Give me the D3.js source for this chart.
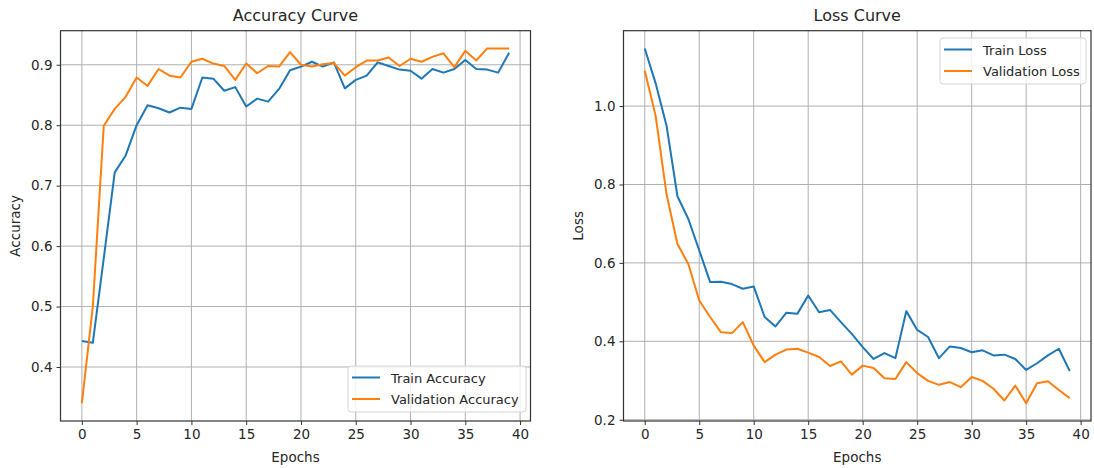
<!DOCTYPE html>
<html>
<head>
<meta charset="utf-8">
<script src="https://cdn.jsdelivr.net/npm/d3@7"></script>
<style>
  html, body { margin: 0; padding: 0; background: #fff; }
  svg { display: block; }
  text { font-family: "DejaVu Sans", sans-serif; fill: #262626; }
</style>
</head>
<body>
<svg id="chart" width="1094" height="468"></svg>
<script>
// ---- data ----
const epochs = d3.range(0, 40);
const trainAccuracy = [0.443, 0.440, 0.580, 0.722, 0.750, 0.800, 0.833, 0.828, 0.821, 0.829,
  0.827, 0.879, 0.877, 0.857, 0.863, 0.831, 0.844, 0.839, 0.860, 0.891,
  0.897, 0.905, 0.897, 0.904, 0.861, 0.875, 0.882, 0.904, 0.898, 0.892,
  0.890, 0.877, 0.893, 0.887, 0.893, 0.908, 0.893, 0.892, 0.887, 0.920];
const valAccuracy = [0.340, 0.500, 0.799, 0.827, 0.847, 0.879, 0.865, 0.893, 0.882, 0.879,
  0.905, 0.910, 0.902, 0.898, 0.875, 0.902, 0.886, 0.898, 0.897, 0.921,
  0.900, 0.897, 0.901, 0.903, 0.882, 0.896, 0.907, 0.907, 0.912, 0.898,
  0.910, 0.905, 0.913, 0.919, 0.896, 0.923, 0.907, 0.927, 0.927, 0.927];
const trainLoss = [1.147, 1.058, 0.950, 0.770, 0.712, 0.632, 0.551, 0.552, 0.546, 0.534,
  0.540, 0.462, 0.438, 0.473, 0.470, 0.517, 0.474, 0.480, 0.449, 0.419,
  0.385, 0.355, 0.370, 0.357, 0.477, 0.429, 0.411, 0.357, 0.387, 0.383,
  0.372, 0.377, 0.364, 0.366, 0.355, 0.327, 0.344, 0.364, 0.381, 0.324];
const valLoss = [1.090, 0.975, 0.775, 0.648, 0.597, 0.504, 0.462, 0.423, 0.421, 0.449,
  0.389, 0.347, 0.366, 0.379, 0.381, 0.371, 0.360, 0.337, 0.349, 0.315,
  0.338, 0.332, 0.306, 0.304, 0.347, 0.319, 0.299, 0.289, 0.296, 0.283,
  0.309, 0.299, 0.279, 0.249, 0.287, 0.242, 0.293, 0.298, 0.276, 0.255];
const xTicks = [0, 5, 10, 15, 20, 25, 30, 35, 40];
const accTicks = [0.4, 0.5, 0.6, 0.7, 0.8, 0.9];
const lossTicks = [0.2, 0.4, 0.6, 0.8, 1.0];
const accLegend = ["Train Accuracy", "Validation Accuracy"];
const lossLegend = ["Train Loss", "Validation Loss"];
const colors = ["#1f77b4", "#ff7f0e"];

const svg = d3.select("#chart");

function panel(cfg) {
  const { left, right, top, bottom } = cfg;
  const g = svg.append("g");
  const pad = (40 - 1) * 0.05;
  const x = d3.scaleLinear().domain([0 - pad, 39 + pad]).range([left, right]);
  const all = cfg.series.flat();
  const mn = d3.min(all), mx = d3.max(all), m = (mx - mn) * 0.05;
  const y = d3.scaleLinear().domain([mn - m, mx + m]).range([bottom, top]);

  // grid
  g.append("g").selectAll("line").data(cfg.xTicks.filter(t => x(t) <= right)).join("line")
    .attr("x1", d => x(d)).attr("x2", d => x(d)).attr("y1", top).attr("y2", bottom)
    .attr("stroke", "#b0b0b0").attr("stroke-width", 1);
  g.append("g").selectAll("line").data(cfg.yTicks).join("line")
    .attr("x1", left).attr("x2", right).attr("y1", d => y(d)).attr("y2", d => y(d))
    .attr("stroke", "#b0b0b0").attr("stroke-width", 1);

  // lines
  const line = d3.line().x((d, i) => x(epochs[i])).y(d => y(d));
  cfg.series.forEach((s, k) => {
    g.append("path").datum(s).attr("d", line).attr("fill", "none")
      .attr("stroke", colors[k]).attr("stroke-width", 2).attr("stroke-linejoin", "round");
  });

  // axes
  const xa = g.append("g").attr("transform", `translate(0,${bottom})`)
    .call(d3.axisBottom(x).tickValues(cfg.xTicks).tickSize(4).tickPadding(4).tickFormat(d3.format("d")));
  const ya = g.append("g").attr("transform", `translate(${left},0)`)
    .call(d3.axisLeft(y).tickValues(cfg.yTicks).tickSize(4).tickPadding(4).tickFormat(d3.format(".1f")));
  [xa, ya].forEach(a => {
    a.select(".domain").remove();
    a.selectAll(".tick line").attr("stroke", "#333");
    a.selectAll(".tick text").style("font-size", "13.5px").style("font-family", "DejaVu Sans").attr("fill", "#333");
  });
  // frame
  g.append("rect").attr("x", left).attr("y", top).attr("width", right - left).attr("height", bottom - top)
    .attr("fill", "none").attr("stroke", "#333").attr("stroke-width", 1.2);

  // titles
  g.append("text").attr("x", (left + right) / 2).attr("y", 21).attr("text-anchor", "middle")
    .style("font-size", "16px").text(cfg.title);
  g.append("text").attr("x", (left + right) / 2).attr("y", 462).attr("text-anchor", "middle")
    .style("font-size", "13.5px").text("Epochs");
  g.append("text").attr("transform", `translate(${cfg.ylabelX},${(top + bottom) / 2}) rotate(-90)`)
    .attr("text-anchor", "middle").style("font-size", "13.5px").text(cfg.ylabel);

  // legend
  const L = cfg.legend;
  const lg = g.append("g");
  lg.append("rect").attr("x", L.x).attr("y", L.y).attr("width", L.w).attr("height", L.h)
    .attr("rx", 3).attr("fill", "white").attr("fill-opacity", 0.8).attr("stroke", "#d5d5d5");
  cfg.labels.forEach((lab, k) => {
    const ly = L.y + 11.5 + k * 21.5;
    lg.append("line").attr("x1", L.x + 4).attr("x2", L.x + 32).attr("y1", ly).attr("y2", ly)
      .attr("stroke", colors[k]).attr("stroke-width", 2);
    lg.append("text").attr("x", L.x + 43).attr("y", ly + 5).style("font-size", "13px").text(lab);
  });
}

panel({
  left: 60.5, right: 530.5, top: 30.7, bottom: 421,
  series: [trainAccuracy, valAccuracy], xTicks, yTicks: accTicks,
  title: "Accuracy Curve", ylabel: "Accuracy", ylabelX: 20,
  labels: accLegend, legend: { x: 348, y: 366, w: 178, h: 46 }
});
panel({
  left: 623.5, right: 1091, top: 30.7, bottom: 421,
  series: [trainLoss, valLoss], xTicks, yTicks: lossTicks,
  title: "Loss Curve", ylabel: "Loss", ylabelX: 583,
  labels: lossLegend, legend: { x: 940, y: 38, w: 146, h: 46 }
});
</script>
</body>
</html>
